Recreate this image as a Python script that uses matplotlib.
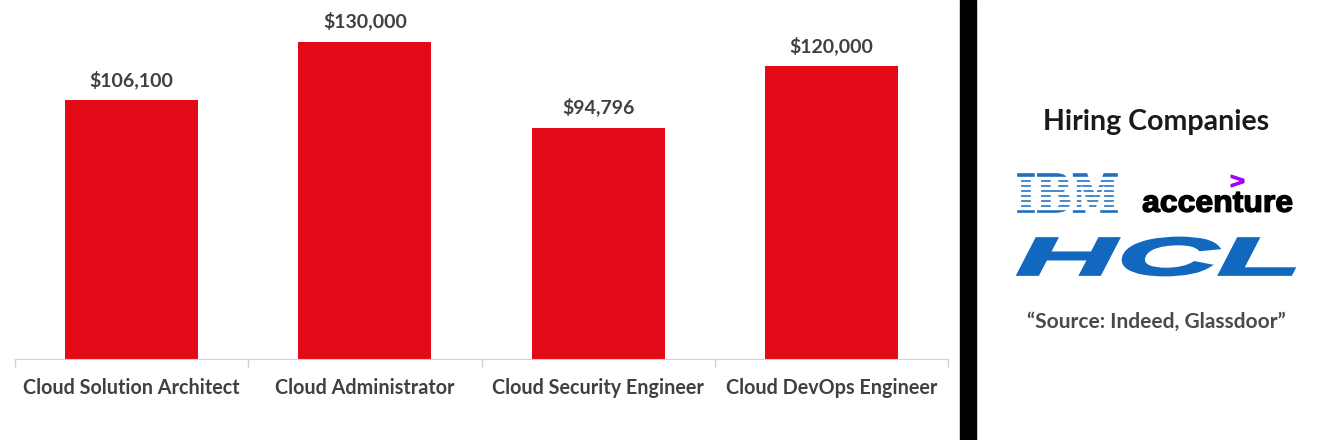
import matplotlib
matplotlib.use("Agg")
import matplotlib.pyplot as plt
from matplotlib.textpath import TextPath
from matplotlib.patches import PathPatch, Rectangle
from matplotlib.font_manager import FontProperties
from matplotlib.transforms import Affine2D

# --- données du graphique ---
roles = ["Cloud Solution Architect", "Cloud Administrator",
         "Cloud Security Engineer", "Cloud DevOps Engineer"]
salaires = [106100, 130000, 94796, 120000]
etiquettes = ["$106,100", "$130,000", "$94,796", "$120,000"]

titre_droite = "Hiring Companies"
source = "\u201cSource: Indeed, Glassdoor\u201d"

W, H = 1336, 440
ROUGE = "#E30A17"
GRIS_TEXTE = "#404040"

fig = plt.figure(figsize=(W / 100, H / 100), dpi=100)
fig.patch.set_facecolor("white")

# --- graphique en barres ---
ax = fig.add_axes([15 / W, (H - 359) / H, (948 - 15) / W, 341.4 / H])
x = range(len(roles))
ax.bar(x, salaires, width=0.57, color=ROUGE, zorder=2)
for xi, v, lab in zip(x, salaires, etiquettes):
    ax.text(xi, v + 4700, lab, ha="center", va="bottom", fontsize=14,
            fontweight="bold", color=GRIS_TEXTE, family="Lato")

ax.set_xlim(-0.5, len(roles) - 0.5)
ax.set_ylim(0, 140000)
ax.set_xticks(list(x))
ax.set_xticklabels(roles, fontsize=14.2, fontweight="bold", color=GRIS_TEXTE,
                   family="Lato")
ax.tick_params(axis="x", which="major", length=0, pad=14)
ax.set_xticks([i - 0.5 for i in range(len(roles) + 1)], minor=True)
ax.tick_params(axis="x", which="minor", length=6, color="#d0d0d0", width=1)
ax.set_yticks([])
for s in ["top", "right", "left"]:
    ax.spines[s].set_visible(False)
ax.spines["bottom"].set_color("#d0d0d0")

# --- panneau de droite (coordonnées en pixels) ---
ov = fig.add_axes([0, 0, 1, 1], zorder=5)
ov.set_xlim(0, W)
ov.set_ylim(H, 0)
ov.axis("off")
ov.patch.set_alpha(0)

# bande noire
ov.add_patch(Rectangle((960, 0), 16, H, color="black"))

ov.text(1156, 122, titre_droite, ha="center", va="center", fontsize=20.5,
        fontweight="bold", color="#1a1a1a", family="Lato")
ov.text(1156, 322, source, ha="center", va="center", fontsize=15,
        fontweight="bold", color="#4a4a4a", family="Lato")


def logo(texte, boite, fp, couleur, trait=0):
    # dessine un texte étiré pour remplir une boîte (x0, y0, x1, y1) en pixels
    chemin = TextPath((0, 0), texte, prop=fp, size=10)
    ext = chemin.get_extents()
    x0, y0, x1, y1 = boite
    sx = (x1 - x0) / ext.width
    sy = (y1 - y0) / ext.height
    tr = Affine2D().translate(-ext.x0, -ext.y0).scale(sx, -sy).translate(x0, y1)
    ov.add_patch(PathPatch(tr.transform_path(chemin), facecolor=couleur,
                           edgecolor=couleur if trait else "none",
                           linewidth=trait, zorder=6))


# IBM (lettres rayées)
logo("IBM", (1018, 174, 1117, 212),
     FontProperties(family="DejaVu Serif", weight="bold"), "#1F70C1", 1.2)
for k in range(7):
    yk = 173 + 40 * (k + 1) / 8 - 1.2
    ov.add_patch(Rectangle((1014, yk), 108, 2.4, color="white", zorder=7))

# accenture
logo("accenture", (1143, 192, 1292, 212),
     FontProperties(family="Liberation Sans", weight="bold"), "black", 1.0)
logo(">", (1231, 175, 1244, 187),
     FontProperties(family="Liberation Sans", weight="bold"), "#A100FF", 0.8)

# HCL
logo("HCL", (1018, 238, 1294, 275),
     FontProperties(family="Liberation Sans", weight="bold", style="italic"),
     "#1268BF", 2.0)

fig.savefig("out.png", dpi=100, facecolor="white")
